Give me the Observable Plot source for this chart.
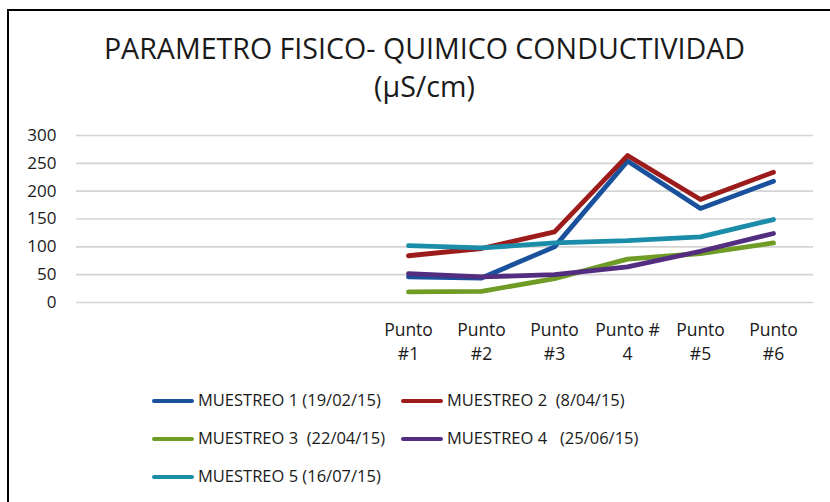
<!DOCTYPE html>
<html>
<head>
<meta charset="utf-8">
<script src="https://cdn.jsdelivr.net/npm/d3@7"></script>
<script src="https://cdn.jsdelivr.net/npm/@observablehq/plot@0.6"></script>
<style>
  html, body { margin: 0; padding: 0; background: #fff; }
  body { width: 830px; height: 502px; overflow: hidden; position: relative; font-family: "Open Sans", sans-serif; color: #222; }
  #frame { position: absolute; left: 7px; top: 9px; width: 900px; height: 600px; border-top: 2.5px solid #000; border-left: 2.5px solid #000; }
  #title { position: absolute; left: 0; top: 29px; width: 849px; text-align: center; font-size: 28.6px; line-height: 38px; color: #1a1a1a; }
  #chart { position: absolute; left: 0; top: 120px; }
  .leg { position: absolute; font-size: 16.5px; color: #1a1a1a; white-space: pre; line-height: 20px; }
  .sw { position: absolute; height: 4.5px; border-radius: 2px; }
</style>
</head>
<body>
<div id="frame"></div>
<div id="title">PARAMETRO FISICO- QUIMICO CONDUCTIVIDAD<br>(µS/cm)</div>
<div id="chart"></div>
<div id="legend"></div>
<script>
// Categories (four empty slots before the sampling points, as in the original chart)
const categories = ["b1", "b2", "b3", "b4", "P1", "P2", "P3", "P4", "P5", "P6"];
const tickLabels = ["", "", "", "", "Punto\n#1", "Punto\n#2", "Punto\n#3", "Punto #\n4", "Punto\n#5", "Punto\n#6"];
const points = ["P1", "P2", "P3", "P4", "P5", "P6"];

const seriesNames = [
  "MUESTREO 1 (19/02/15)",
  "MUESTREO 2  (8/04/15)",
  "MUESTREO 3  (22/04/15)",
  "MUESTREO 4   (25/06/15)",
  "MUESTREO 5 (16/07/15)"
];
const muestreo1 = [46, 44, 100, 254, 169, 218];
const muestreo2 = [84, 97, 127, 264, 185, 234];
const muestreo3 = [19, 20, 43, 78, 88, 107];
const muestreo4 = [52, 46, 50, 64, 92, 124];
const muestreo5 = [102, 98, 107, 111, 118, 149];
const seriesColors = ["#1a519c", "#9c1c1c", "#6f9c24", "#532e80", "#1b8da8"];
const yTicks = [0, 50, 100, 150, 200, 250, 300];

const allSeries = [muestreo1, muestreo2, muestreo3, muestreo4, muestreo5];
const data = [];
allSeries.forEach((vals, si) => {
  vals.forEach((v, i) => data.push({ serie: seriesNames[si], punto: points[i], value: v }));
});

const labelOf = new Map(categories.map((c, i) => [c, tickLabels[i]]));

const chart = Plot.plot({
  width: 830,
  height: 260,
  marginTop: 15,
  marginBottom: 78,
  marginLeft: 76,
  marginRight: 17,
  style: { fontFamily: "Open Sans, sans-serif", fontSize: "17px", color: "#1a1a1a", background: "transparent" },
  x: { type: "point", domain: categories, padding: 0.5 },
  y: { domain: [0, 300] },
  color: { domain: seriesNames, range: seriesColors },
  marks: [
    Plot.ruleY(yTicks, { stroke: "#d4d4d4", strokeWidth: 1.6 }),
    Plot.axisY({ ticks: yTicks, tickSize: 0, tickPadding: 20, label: null, fontSize: 17 }),
    Plot.axisX({ tickSize: 0, tickPadding: 16, label: null, tickFormat: d => labelOf.get(d), fontSize: 17.5, lineHeight: 1.4 }),
    Plot.line(data, { x: "punto", y: "value", z: "serie", stroke: "serie", strokeWidth: 4.8, strokeLinecap: "round", strokeLinejoin: "round" })
  ]
});
document.getElementById("chart").appendChild(chart);

// Legend
const legPos = [[152, 401], [401, 401], [152, 439], [401, 439], [152, 477]];
const legend = document.getElementById("legend");
seriesNames.forEach((name, i) => {
  const [x, y] = legPos[i];
  const sw = document.createElement("div");
  sw.className = "sw";
  sw.style.left = x + "px";
  sw.style.top = (y - 2.25) + "px";
  sw.style.width = "42px";
  sw.style.background = seriesColors[i];
  legend.appendChild(sw);
  const t = document.createElement("div");
  t.className = "leg";
  t.style.left = (x + 46) + "px";
  t.style.top = (y - 11) + "px";
  t.textContent = name;
  legend.appendChild(t);
});
</script>
</body>
</html>
